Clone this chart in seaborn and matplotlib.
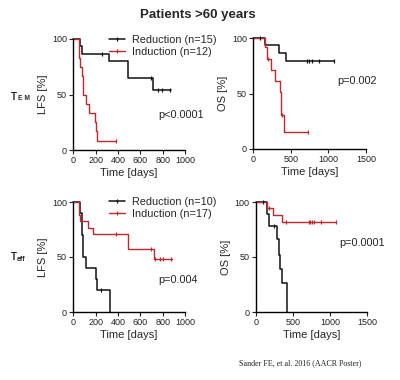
import numpy as np
import pandas as pd
import seaborn as sns
import matplotlib
matplotlib.use('Agg')
import matplotlib.pyplot as plt
from matplotlib.lines import Line2D

# ---- data (time in days, survival in %) ----
# top left: LFS, T_EM
tl_red_t = [50, 55, 60, 80, 85, 90, 115, 145, 190, 205, 215]
tl_red_s = [91.7, 83.3, 75, 66.7, 58.3, 50, 41.7, 33.3, 25, 16.7, 8.3]
tl_red_end = 385
tl_red_cens = [385]
tl_blk_t = [60, 80, 320, 490, 716]
tl_blk_s = [93.3, 86.7, 80, 64.8, 54]
tl_blk_end = 875
tl_blk_cens = [255, 700, 760, 790, 870]

# top right: OS, T_EM
tr_red_t = [150, 185, 230, 288, 350, 375, 405]
tr_red_s = [91.7, 81, 71, 61, 51, 30.5, 15.3]
tr_red_end = 730
tr_red_cens = [200, 386, 730]
tr_blk_t = [155, 345, 430]
tr_blk_s = [93.3, 86.5, 79]
tr_blk_end = 1080
tr_blk_cens = [95, 710, 745, 775, 880, 1080]

# bottom left: LFS, T_eff
bl_red_t = [50, 53, 57, 135, 175, 490, 720]
bl_red_s = [94.1, 88.2, 82.4, 76.5, 70.6, 57.3, 48]
bl_red_end = 880
bl_red_cens = [385, 700, 735, 775, 800, 875]
bl_blk_t = [60, 75, 80, 85, 90, 110, 205, 215, 325]
bl_blk_s = [90, 80, 70, 60, 50, 40, 30, 20, 0]
bl_blk_end = 325
bl_blk_cens = [250]

# bottom right: OS, T_eff
br_red_t = [150, 225, 350]
br_red_s = [94.1, 88.2, 82]
br_red_end = 1080
br_red_cens = [175, 400, 715, 730, 760, 780, 880, 1080]
br_blk_t = [150, 170, 285, 310, 330, 350, 420]
br_blk_s = [88.9, 77.8, 66.7, 52, 39, 26, 0]
br_blk_end = 420
br_blk_cens = [90, 240]

RED = '#c0282d'
BLK = '#111111'

sns.set_style('ticks')
plt.rcParams['font.family'] = ['Liberation Sans', 'DejaVu Sans']


def step_frame(t, s, end):
    tt = [0] + list(t)
    ss = [100] + list(s)
    if end > tt[-1]:
        tt.append(end)
        ss.append(ss[-1])
    return pd.DataFrame({'time': tt, 'surv': ss})


def surv_at(df, times):
    idx = np.searchsorted(df['time'].values, times, side='right') - 1
    return df['surv'].values[idx]


def km(ax, t, s, end, cens, color, lw):
    df = step_frame(t, s, end)
    sns.lineplot(data=df, x='time', y='surv', ax=ax, color=color, lw=lw,
                 drawstyle='steps-post', estimator=None, sort=False)
    cdf = pd.DataFrame({'time': cens, 'surv': surv_at(df, cens)})
    sns.scatterplot(data=cdf, x='time', y='surv', ax=ax, color=color,
                    marker='|', s=7, linewidth=0.9, zorder=4)


def style_axes(ax, xmax, xticks, ylabel):
    ax.set_xlim(0, xmax)
    ax.set_ylim(0, 100)
    ax.set_xticks(xticks)
    ax.set_yticks([0, 50, 100])
    ax.tick_params(labelsize=6.5, length=3, width=0.8, pad=1.5, colors='#222222')
    for sp in ['left', 'bottom']:
        ax.spines[sp].set_linewidth(1.0)
        ax.spines[sp].set_color('black')
    sns.despine(ax=ax)
    ax.set_xlabel('Time [days]', fontsize=8, labelpad=2)
    ax.set_ylabel(ylabel, fontsize=8, labelpad=3)
    for line in ax.lines:
        line.set_clip_on(False)
    for coll in ax.collections:
        coll.set_clip_on(False)


fig = plt.figure(figsize=(4, 3.8), dpi=100)
W, H = 400, 380


def add_ax(x0, x1, y0, y1):
    return fig.add_axes([x0 / W, 1 - y1 / H, (x1 - x0) / W, (y1 - y0) / H])


ax_tl = add_ax(73.3, 185, 39, 150)
ax_tr = add_ax(253.3, 366, 38, 149)
ax_bl = add_ax(73.3, 185, 202, 312)
ax_br = add_ax(256, 367, 202, 312)

km(ax_tl, tl_blk_t, tl_blk_s, tl_blk_end, tl_blk_cens, BLK, 1.1)
km(ax_tl, tl_red_t, tl_red_s, tl_red_end, tl_red_cens, RED, 1.0)
km(ax_tr, tr_blk_t, tr_blk_s, tr_blk_end, tr_blk_cens, BLK, 1.1)
km(ax_tr, tr_red_t, tr_red_s, tr_red_end, tr_red_cens, RED, 1.0)
km(ax_bl, bl_blk_t, bl_blk_s, bl_blk_end, bl_blk_cens, BLK, 1.1)
km(ax_bl, bl_red_t, bl_red_s, bl_red_end, bl_red_cens, RED, 1.0)
km(ax_br, br_blk_t, br_blk_s, br_blk_end, br_blk_cens, BLK, 1.1)
km(ax_br, br_red_t, br_red_s, br_red_end, br_red_cens, RED, 1.0)

style_axes(ax_tl, 1000, [0, 200, 400, 600, 800, 1000], 'LFS [%]')
style_axes(ax_tr, 1500, [0, 500, 1000, 1500], 'OS [%]')
style_axes(ax_bl, 1000, [0, 200, 400, 600, 800, 1000], 'LFS [%]')
style_axes(ax_br, 1500, [0, 500, 1000, 1500], 'OS [%]')

# p-values
ax_tl.text(0.758, 0.315, 'p<0.0001', transform=ax_tl.transAxes, fontsize=7.8, va='center')
ax_tr.text(0.749, 0.613, 'p=0.002', transform=ax_tr.transAxes, fontsize=7.8, va='center')
ax_bl.text(0.758, 0.29, 'p=0.004', transform=ax_bl.transAxes, fontsize=7.8, va='center')
ax_br.text(0.748, 0.627, 'p=0.0001', transform=ax_br.transAxes, fontsize=7.8, va='center')


def legend_at(ax, labels, y_top):
    handles = [Line2D([], [], color=BLK, lw=1.1, marker='|', ms=3, mew=0.9),
               Line2D([], [], color=RED, lw=1.0, marker='|', ms=3, mew=0.9)]
    fig.legend(handles, labels, loc='upper left', frameon=False, fontsize=7.8,
               bbox_to_anchor=(109 / W, 1 - y_top / H), borderaxespad=0, borderpad=0,
               handlelength=1.5, handletextpad=0.6, labelspacing=0.2, numpoints=1)


legend_at(ax_tl, ['Reduction (n=15)', 'Induction (n=12)'], 35)
legend_at(ax_bl, ['Reduction (n=10)', 'Induction (n=17)'], 197)

# title and row labels
fig.text(198 / W, 1 - 15 / H, 'Patients >60 years', fontsize=9.5, fontweight='bold',
         ha='center', va='center')
fig.text(10.5 / W, 1 - 97 / H, 'T', fontsize=7, fontweight='bold', va='center')
fig.text(18 / W, 1 - 99 / H, 'E M', fontsize=4.8, fontweight='bold', va='center')
fig.text(10.5 / W, 1 - 257.5 / H, 'T', fontsize=7, fontweight='bold', va='center')
fig.text(16.8 / W, 1 - 259.5 / H, 'eff', fontsize=5, fontweight='bold', va='center')

fig.text(300 / W, 1 - 363 / H, 'Sander FE, et al. 2016 (AACR Poster)', fontsize=5.8,
         family=['Liberation Serif', 'DejaVu Serif'], ha='center', va='center', color='#222222')

fig.savefig('out.png', dpi=100)
